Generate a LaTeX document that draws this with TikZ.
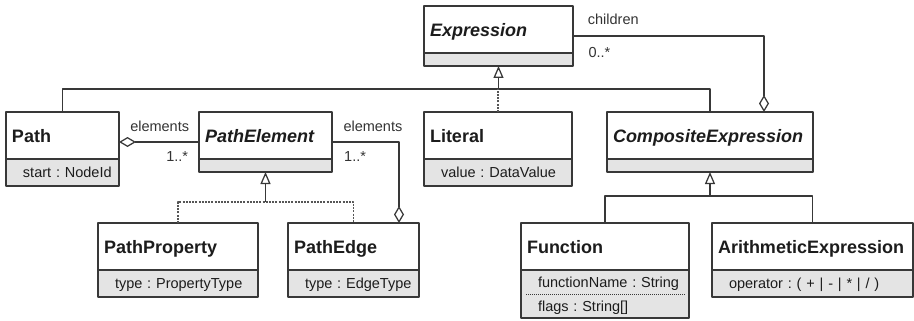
\documentclass[tikz,border=0pt]{standalone}
\usepackage{fontspec}
\setmainfont{Liberation Sans}
\usetikzlibrary{arrows.meta,positioning}

\begin{document}
\begin{tikzpicture}[x=1pt, y=-1pt, line join=round,
    clsname/.style={draw=umlline, fill=white, line width=1.25pt, outer sep=0pt,
      anchor=north west, minimum height=47pt, inner xsep=6pt, inner ysep=0pt,
      align=left, text depth=0pt, text=umltext,
      font=\fontsize{18}{21}\selectfont\bfseries},
    abstract/.style={font=\fontsize{18}{21}\selectfont\bfseries\itshape},
    clsattr/.style={draw=umlline, fill=umlfill, line width=1.25pt, outer sep=0pt,
      below=0pt of #1, minimum height=27pt, inner xsep=6pt, inner ysep=0pt,
      align=left, text depth=0pt, text=umltext,
      font=\fontsize{14.5}{24}\selectfont,
      execute at begin node={\leftskip=11pt}},
    genline/.style={draw=umlline, line width=1.25pt},
    realline/.style={draw=umlline!85, line width=1.25pt, dash pattern=on 2pt off 1.2pt},
    genarrow/.style={genline, -{Triangle[open, length=12pt, width=10pt]}},
    aggr/.style={genline, {Diamond[open, length=17pt, width=10pt]}-},
    rolelbl/.style={inner sep=0pt, text=umltext!90, font=\fontsize{14.5}{17}\selectfont}]
  \definecolor{umlline}{HTML}{383838}
  \definecolor{umlfill}{HTML}{E4E4E4}
  \definecolor{umltext}{HTML}{1C1C1C}
  \useasboundingbox (0,0) rectangle (914,321);

  % classes
  \node[clsname, abstract, text width=137pt] (expr) at (424,6) {Expression};
  \node[clsattr=expr, text width=137pt, minimum height=13pt] (exprattr) {};

  \node[clsname, text width=101pt] (path) at (6,112) {Path};
  \node[clsattr=path, text width=101pt] (pathattr) {start~:~NodeId};

  \node[clsname, abstract, text width=121pt] (pathelem) at (199,112) {PathElement};
  \node[clsattr=pathelem, text width=121pt, minimum height=13pt] (peattr) {};

  \node[clsname, text width=136pt] (literal) at (424,112) {Literal};
  \node[clsattr=literal, text width=136pt] (litattr) {value~:~DataValue};

  \node[clsname, abstract, text width=194pt] (comp) at (607,112) {CompositeExpression};
  \node[clsattr=comp, text width=194pt, minimum height=13pt] (compattr) {};

  \node[clsname, text width=148pt] (pprop) at (98,223) {PathProperty};
  \node[clsattr=pprop, text width=148pt] (ppropattr) {type~:~PropertyType};

  \node[clsname, text width=119pt] (pedge) at (288,223) {PathEdge};
  \node[clsattr=pedge, text width=119pt] (pedgeattr) {type~:~EdgeType};

  \node[clsname, text width=156pt] (func) at (521,223) {Function};
  \node[clsattr=func, text width=156pt, minimum height=48pt, text depth=24pt] (funcattr)
    {functionName~:~String\\flags~:~String[]};
  \draw[umlline, line width=0.8pt, dash pattern=on 1pt off 1pt]
    ([xshift=5pt]funcattr.west) -- ([xshift=-3pt]funcattr.east);

  \node[clsname, text width=189pt] (arith) at (712,223) {ArithmeticExpression};
  \node[clsattr=arith, text width=189pt] (arithattr) {operator~:~(~+~|~-~|~*~|~/~)};

  % generalizations
  \coordinate (exprjoin) at (exprattr.south |- 0,89);
  \draw[genline] (path.north) |- (exprjoin) -| (comp.north);
  \draw[realline] (literal.north) -- (literal.north |- exprjoin);
  \draw[genarrow] (exprjoin) -- (exprattr.south);

  \coordinate (pejoin) at (peattr.south |- 0,202);
  \draw[realline] (pprop.north) |- (pejoin) -| (pedge.north);
  \draw[genarrow] (pejoin) -- (peattr.south);

  \coordinate (compjoin) at (compattr.south |- 0,196);
  \draw[genline] (func.north) |- (compjoin) -| (arith.north);
  \draw[genarrow] (compjoin) -- (compattr.south);

  % aggregations
  \draw[aggr] ([yshift=-6.5pt]path.east) -- ([yshift=-6.5pt]pathelem.west);
  \node[rolelbl, anchor=east] (pathrole) at ([xshift=-9.7pt,yshift=9.5pt]pathelem.west) {elements};
  \node[rolelbl, anchor=east] (pathmult) at ([xshift=-10.7pt,yshift=-21.2pt]pathelem.west) {1..*};

  \draw[aggr] ([xshift=-20pt]pedge.north east) |- ([yshift=-6.5pt]pathelem.east);
  \node[rolelbl, anchor=west] (edgerole) at ([xshift=11.3pt,yshift=9.5pt]pathelem.east) {elements};
  \node[rolelbl, anchor=west] (edgemult) at ([xshift=12pt,yshift=-21.2pt]pathelem.east) {1..*};

  \draw[aggr] ([xshift=-49pt]comp.north east) |- ([yshift=-6.5pt]expr.east);
  \node[rolelbl, anchor=west] (childrole) at ([xshift=14.7pt,yshift=10.3pt]expr.east) {children};
  \node[rolelbl, anchor=west] (childmult) at ([xshift=15.3pt,yshift=-22.8pt]expr.east) {0..*};
\end{tikzpicture}
\end{document}
